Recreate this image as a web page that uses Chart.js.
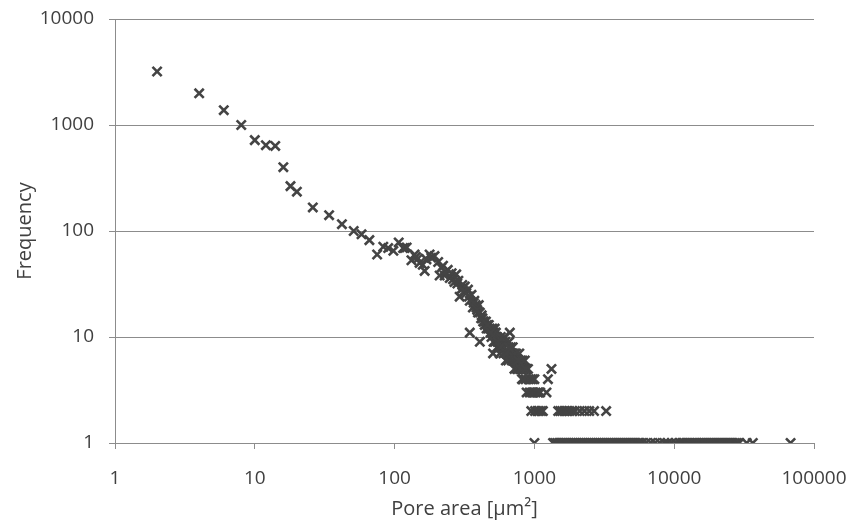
<!DOCTYPE html>
<html>
<head>
<meta charset="utf-8">
<script src="https://cdn.jsdelivr.net/npm/chart.js@4.4.1/dist/chart.umd.min.js"></script>
<style>
  html, body { margin: 0; padding: 0; background: #fff; }
</style>
</head>
<body>
<canvas id="chart" width="856" height="526"></canvas>
<script>
// pore area [um2] and how often it occurs
const poreArea = [
  2, 4, 6, 8, 10, 12, 14, 16, 18, 20, 26, 34, 42, 51, 58, 66, 75, 83, 90, 98,
  107, 115, 118, 122, 132, 139, 142, 147, 151, 159, 164, 169, 178, 183, 193,
  205, 210, 216, 222, 228, 232, 240, 248, 256, 262, 268, 276, 281, 292, 299,
  305, 309, 318, 326, 335, 345, 345, 355, 363, 372, 380, 385, 395, 400, 407,
  407, 416, 425, 430, 441, 450, 455, 466, 472, 480, 493, 500, 500, 506, 510,
  515, 520, 521, 530, 530, 540, 540, 550, 560, 565, 575, 580, 590, 590, 600,
  610, 614, 620, 625, 640, 649, 660, 667, 675, 680, 690, 700, 704, 720, 720,
  730, 740, 745, 750, 760, 770, 780, 786, 800, 800, 810, 820, 840, 854, 870,
  880, 900,
  // extra band points
  286, 314, 340, 368, 390, 420, 436, 460, 486, 545, 570, 630, 655, 710, 735, 765, 795, 830, 860,
  // frequency 5 outlier, frequency 4
  1325,
  815, 830, 865, 910, 940, 970, 1000, 1250,
  // frequency 3
  880, 925, 960, 985, 1020, 1060, 1100, 1220,
  // frequency 2
  950, 1010, 1050, 1080, 1120, 1150,
  1480, 1530, 1580, 1640, 1700, 1780, 1860, 1950, 2110, 2280, 2470, 2670, 3260,
  // frequency 1
  1000,
  1360, 1400, 1450, 1500, 1550, 1600, 1650, 1700, 1760, 1820, 1880, 1940, 2000,
  2070, 2140, 2210, 2280, 2360, 2440, 2520, 2600, 2690, 2780, 2870, 2960, 3060,
  3160, 3270, 3380, 3490, 3600, 3720, 3850, 3980, 4110, 4250, 4390, 4530, 4680,
  4840, 5000, 5170, 5340, 5520, 5700, 5900,
  6300, 6800, 7300, 7900, 8500, 9000, 9600, 10300,
  11000, 11400, 11800, 12200, 12600, 13000, 13500, 14000, 14500, 15000, 15500,
  16000, 16500, 17100, 17700, 18300, 18900, 19500, 20200, 20900, 21600, 22300,
  23100, 23900, 24700, 25500, 26400, 27300, 28200, 29200,
  33000, 36500, 68000
];
const frequency = [
  3200, 1990, 1380, 1000, 720, 645, 635, 400, 265, 235, 167, 141, 116, 100, 93, 82, 60, 71, 69, 65,
  78, 69, 69, 70, 53, 60, 57, 55, 50, 48, 42, 54, 60, 56, 58,
  51, 38, 45, 47, 38, 41, 43, 36, 40, 35, 33, 39, 32, 24, 28,
  31, 29, 30, 26, 28, 22, 11, 25, 19, 22, 20, 19, 17, 20, 9,
  17, 15, 15, 14, 13, 14, 12, 12, 13, 12, 10, 11, 12, 7, 9,
  11, 12, 9, 10, 11, 8, 10, 9, 8, 7, 10, 9, 8, 9, 7,
  10, 8, 9, 6, 7, 6, 9, 11, 7, 8, 6, 8, 7, 5, 7,
  6, 7, 6, 5, 5, 6, 7, 5, 5, 6, 5, 6, 5, 6, 5,
  5, 5,
  34, 27, 24, 21, 18, 16, 14, 13, 11, 9, 8, 7, 8, 6, 6, 6, 5, 5, 5,
  5,
  4, 4, 4, 4, 4, 4, 4, 4,
  3, 3, 3, 3, 3, 3, 3, 3,
  2, 2, 2, 2, 2, 2,
  2, 2, 2, 2, 2, 2, 2, 2, 2, 2, 2, 2, 2,
  1,
  1, 1, 1, 1, 1, 1, 1, 1, 1, 1, 1, 1, 1,
  1, 1, 1, 1, 1, 1, 1, 1, 1, 1, 1, 1, 1,
  1, 1, 1, 1, 1, 1, 1, 1, 1, 1, 1, 1, 1,
  1, 1, 1, 1, 1, 1, 1,
  1, 1, 1, 1, 1, 1, 1, 1,
  1, 1, 1, 1, 1, 1, 1, 1, 1, 1, 1,
  1, 1, 1, 1, 1, 1, 1, 1, 1, 1, 1,
  1, 1, 1, 1, 1, 1, 1, 1,
  1, 1, 1
];
const xTickValues = [1, 10, 100, 1000, 10000, 100000];
const yTickValues = [1, 10, 100, 1000, 10000];

const points = poreArea.map((x, i) => ({ x: x, y: frequency[i] }));

const axisGray = "#8c8c8c";
const textGray = "#404040";
const fontFamily = "'Open Sans', 'Noto Sans', sans-serif";

new Chart(document.getElementById("chart"), {
  type: "scatter",
  data: {
    datasets: [{
      data: points,
      pointStyle: "crossRot",
      pointRadius: 6.5,
      pointHoverRadius: 6.5,
      borderWidth: 2.6,
      borderColor: "#444444",
      backgroundColor: "#444444"
    }]
  },
  options: {
    responsive: false,
    animation: false,
    devicePixelRatio: 1,
    layout: { autoPadding: false, padding: { top: 19, right: 42, left: 0, bottom: 0 } },
    plugins: { legend: { display: false }, tooltip: { enabled: false } },
    scales: {
      x: {
        type: "logarithmic",
        position: "bottom",
        min: 1,
        max: 100000,
        afterBuildTicks: s => { s.ticks = xTickValues.map(v => ({ value: v })); },
        // fixed axis box, labels may overhang the plot edges
        afterFit: s => { s.height = 83; s.paddingLeft = 0; s.paddingRight = 0; },
        ticks: {
          callback: v => String(v),
          autoSkip: false,
          maxRotation: 0,
          padding: 18,
          color: textGray,
          font: { family: fontFamily, size: 19 }
        },
        grid: { drawOnChartArea: false, drawTicks: true, tickLength: 6, color: axisGray },
        border: { color: axisGray },
        title: {
          display: true,
          text: "Pore area [\u00b5m\u00b2]",
          color: textGray,
          font: { family: fontFamily, size: 20 },
          padding: { top: 2, bottom: 5 }
        }
      },
      y: {
        type: "logarithmic",
        min: 1,
        max: 10000,
        afterBuildTicks: s => { s.ticks = yTickValues.map(v => ({ value: v })); },
        afterFit: s => { s.width = 115; s.paddingTop = 0; s.paddingBottom = 0; },
        ticks: {
          callback: v => String(v),
          autoSkip: false,
          padding: 15,
          color: textGray,
          font: { family: fontFamily, size: 19 }
        },
        grid: { color: axisGray, tickLength: 6 },
        border: { color: axisGray },
        title: {
          display: true,
          text: "Frequency",
          color: textGray,
          font: { family: fontFamily, size: 20 },
          padding: { top: 13, bottom: 0 }
        }
      }
    }
  }
});
</script>
</body>
</html>
